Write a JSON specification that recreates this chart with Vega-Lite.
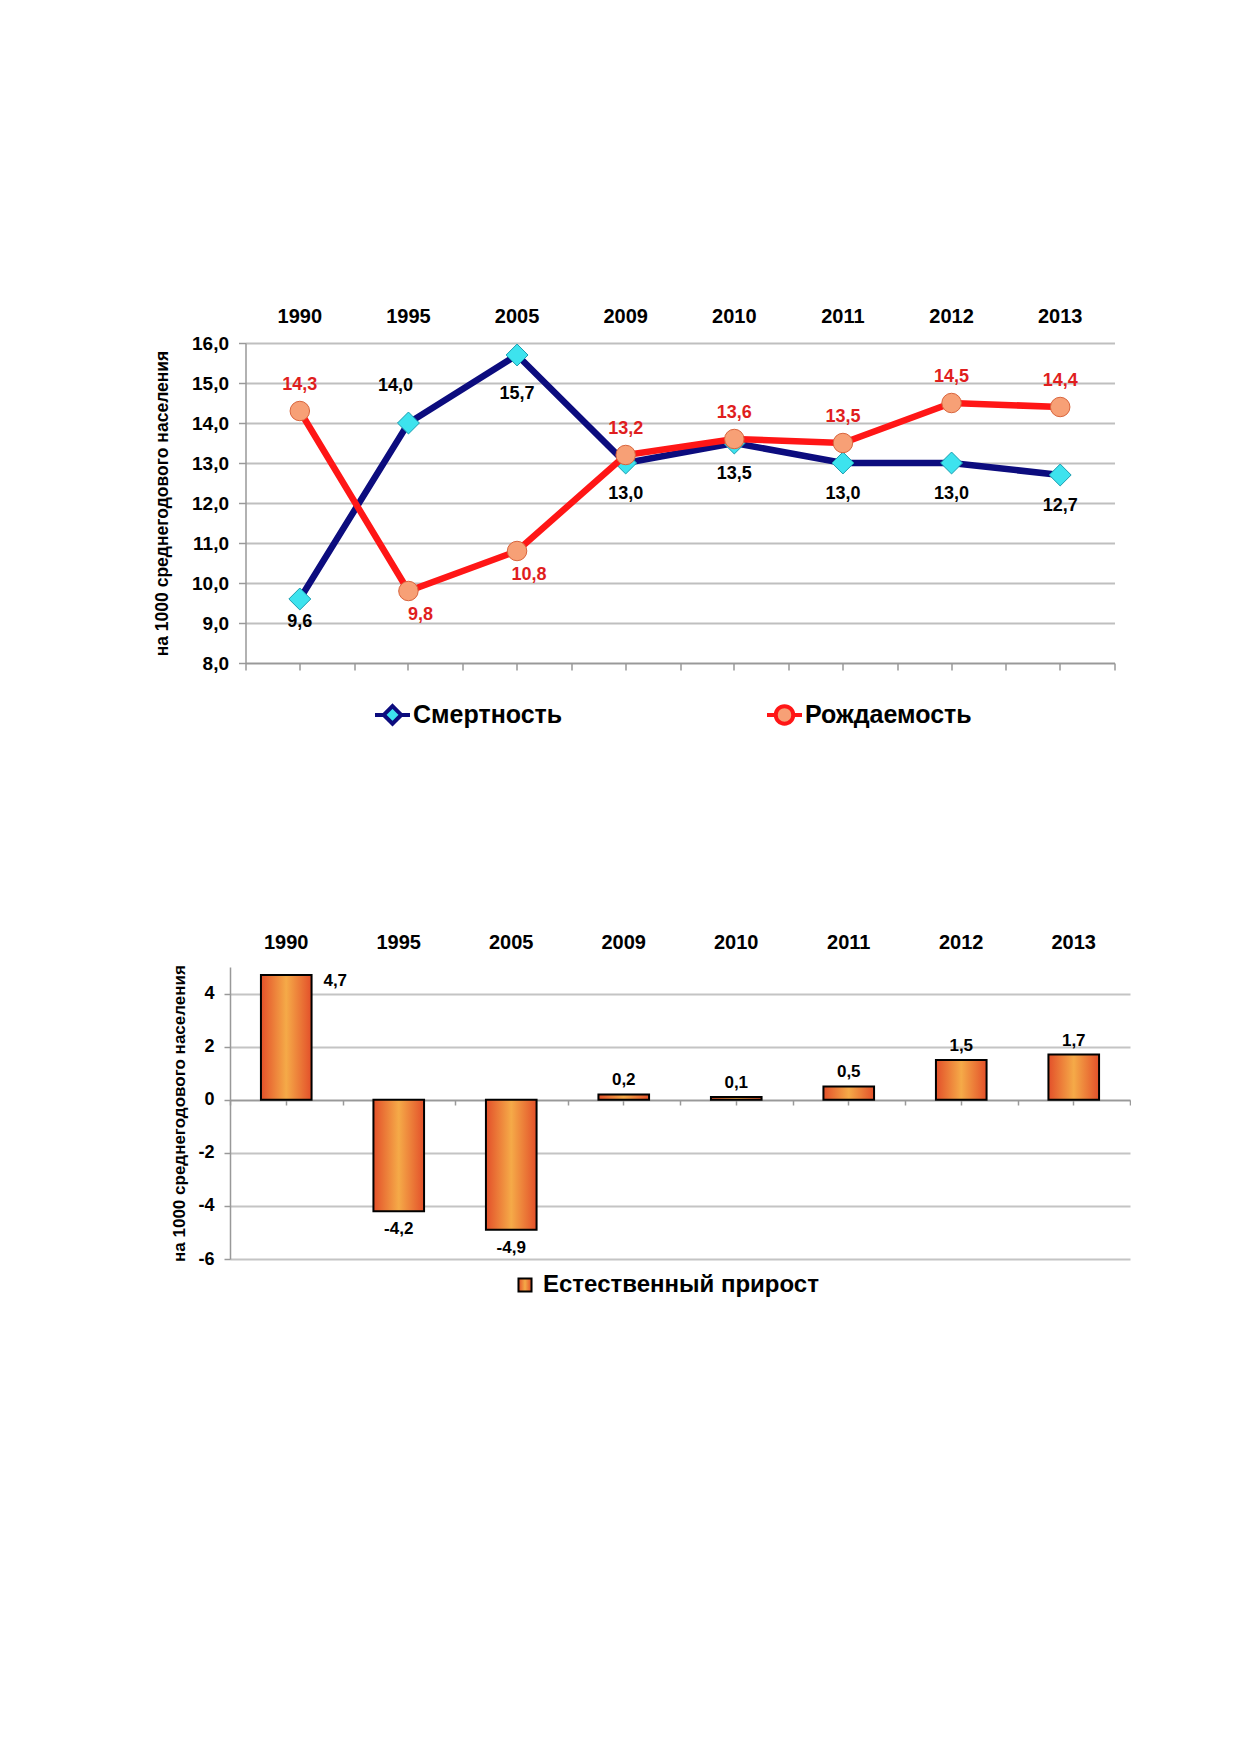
{
  "$schema": "https://vega.github.io/schema/vega-lite/v6.json",
  "background": "white",
  "padding": {"left": 153, "top": 306, "right": 0, "bottom": 0},
  "config": {
    "locale": {"number": {"decimal": ",", "thousands": " ", "grouping": [3], "currency": ["", ""], "minus": "-"}},
    "font": "Liberation Sans",
    "view": {"stroke": null},
    "axis": {"labelFont": "Liberation Sans", "titleFont": "Liberation Sans", "labelColor": "#000000", "titleColor": "#000000"},
    "legend": {"labelFont": "Liberation Sans"}
  },
  "datasets": {
    "rates": [
      {"year": "1990", "series": "Смертность", "value": 9.6},
      {"year": "1995", "series": "Смертность", "value": 14.0},
      {"year": "2005", "series": "Смертность", "value": 15.7},
      {"year": "2009", "series": "Смертность", "value": 13.0},
      {"year": "2010", "series": "Смертность", "value": 13.5},
      {"year": "2011", "series": "Смертность", "value": 13.0},
      {"year": "2012", "series": "Смертность", "value": 13.0},
      {"year": "2013", "series": "Смертность", "value": 12.7},
      {"year": "1990", "series": "Рождаемость", "value": 14.3},
      {"year": "1995", "series": "Рождаемость", "value": 9.8},
      {"year": "2005", "series": "Рождаемость", "value": 10.8},
      {"year": "2009", "series": "Рождаемость", "value": 13.2},
      {"year": "2010", "series": "Рождаемость", "value": 13.6},
      {"year": "2011", "series": "Рождаемость", "value": 13.5},
      {"year": "2012", "series": "Рождаемость", "value": 14.5},
      {"year": "2013", "series": "Рождаемость", "value": 14.4}
    ],
    "growth": [
      {"year": "1990", "value": 4.7},
      {"year": "1995", "value": -4.2},
      {"year": "2005", "value": -4.9},
      {"year": "2009", "value": 0.2},
      {"year": "2010", "value": 0.1},
      {"year": "2011", "value": 0.5},
      {"year": "2012", "value": 1.5},
      {"year": "2013", "value": 1.7}
    ]
  },
  "bounds": "flush",
  "center": true,
  "spacing": 304,
  "vconcat": [
    {
      "width": 869,
      "height": 320,
      "data": {"name": "rates"},
      "resolve": {"axis": {"x": "independent"}},
      "encoding": {
        "y": {"field": "value", "type": "quantitative",
          "scale": {"domain": [8, 16], "nice": false, "zero": false},
          "axis": {"title": "на 1000 среднегодового населения", "titleFontSize": 17.5, "titleFontWeight": "bold", "titlePadding": 20,
            "values": [8, 9, 10, 11, 12, 13, 14, 15, 16], "format": ".1f", "labelOverlap": false,
            "labelFontSize": 19, "labelFontWeight": "bold", "labelPadding": 10,
            "grid": true, "gridColor": "#bfbfbf", "gridWidth": 2,
            "domainColor": "#999999", "domainWidth": 1.5, "tickColor": "#999999", "tickSize": 7, "tickWidth": 1.5}}
      },
      "layer": [
        {
          "transform": [{"filter": "datum.series == 'Смертность'"}],
          "mark": {"type": "line", "strokeWidth": 6.5},
          "encoding": {
            "x": {"field": "year", "type": "nominal", "sort": null,
              "scale": {"type": "band", "paddingInner": 0, "paddingOuter": 0},
              "axis": {"orient": "top", "title": null, "domain": false, "ticks": false, "tickSize": 0, "grid": false,
                "labelAngle": 0, "labelFontSize": 20, "labelFontWeight": "bold", "labelPadding": 17}},
            "color": {"field": "series", "type": "nominal",
              "scale": {"domain": ["Смертность", "Рождаемость"], "range": ["#0c0c7e", "#ff1616"]},
              "legend": {"orient": "none", "legendX": 143, "legendY": 352, "direction": "horizontal", "title": null,
                "labelFontSize": 25, "labelFontWeight": "bold", "labelColor": "#000000", "labelLimit": 400,
                "symbolType": "M-1,0H1", "symbolSize": 1225, "symbolStrokeWidth": 4, "labelOffset": 1, "columnPadding": 196,
                "encode": {"symbols": {"update": {
                  "shape": {"signal": "datum.value == 'Смертность' ? 'M-1,0H-0.5M0.5,0H1M0,-0.5L0.5,0L0,0.5L-0.5,0Z' : 'M-1,0H-0.5M0.5,0H1M0.5,0A0.5,0.5 0 1,1 -0.5,0A0.5,0.5 0 1,1 0.5,0Z'"},
                  "fill": {"signal": "datum.value == 'Смертность' ? '#3de3ee' : '#f7a076'"},
                  "strokeWidth": {"value": 4}
                }}}}
            }
          }
        },
        {
          "transform": [{"filter": "datum.series == 'Смертность'"}],
          "mark": {"type": "point", "shape": "diamond", "filled": true, "fill": "#3de3ee", "stroke": "#1b9db0", "strokeWidth": 1, "size": 480, "opacity": 1},
          "encoding": {
            "x": {"field": "year", "type": "nominal", "sort": null,
              "scale": {"type": "band", "paddingInner": 0, "paddingOuter": 0},
              "axis": {"orient": "bottom", "title": null, "labels": false, "grid": false,
                "domain": true, "domainColor": "#999999", "domainWidth": 1.5, "ticks": true, "tickColor": "#999999", "tickSize": 7, "tickWidth": 1.5}}
          }
        },
        {
          "transform": [{"filter": "datum.series == 'Рождаемость'"}],
          "mark": {"type": "line", "strokeWidth": 6.5},
          "encoding": {
            "x": {"field": "year", "type": "nominal", "sort": null,
              "scale": {"type": "band", "paddingInner": 0, "paddingOuter": 0},
              "axis": {"orient": "bottom", "title": null, "labels": false, "grid": false, "domain": false,
                "ticks": true, "tickBand": "extent", "tickColor": "#999999", "tickSize": 7, "tickWidth": 1.5}},
            "color": {"field": "series", "type": "nominal",
              "scale": {"domain": ["Смертность", "Рождаемость"], "range": ["#0c0c7e", "#ff1616"]},
              "legend": {"orient": "none", "legendX": 143, "legendY": 352, "direction": "horizontal", "title": null,
                "labelFontSize": 25, "labelFontWeight": "bold", "labelColor": "#000000", "labelLimit": 400,
                "symbolType": "M-1,0H1", "symbolSize": 1225, "symbolStrokeWidth": 4, "labelOffset": 1, "columnPadding": 196,
                "encode": {"symbols": {"update": {
                  "shape": {"signal": "datum.value == 'Смертность' ? 'M-1,0H-0.5M0.5,0H1M0,-0.5L0.5,0L0,0.5L-0.5,0Z' : 'M-1,0H-0.5M0.5,0H1M0.5,0A0.5,0.5 0 1,1 -0.5,0A0.5,0.5 0 1,1 0.5,0Z'"},
                  "fill": {"signal": "datum.value == 'Смертность' ? '#3de3ee' : '#f7a076'"},
                  "strokeWidth": {"value": 4}
                }}}}
            }
          }
        },
        {
          "transform": [{"filter": "datum.series == 'Рождаемость'"}],
          "mark": {"type": "point", "shape": "circle", "filled": true, "fill": "#f7a076", "stroke": "#d9643c", "strokeWidth": 1, "size": 380, "opacity": 1},
          "encoding": {
            "x": {"field": "year", "type": "nominal", "sort": null, "axis": null}
          }
        },
        {
          "transform": [{"filter": "datum.series == 'Смертность' && datum.year != '1995' && datum.year != '1990' && datum.year != '2005'"}],
          "mark": {"type": "text", "baseline": "middle", "dy": 31, "fontSize": 18, "fontWeight": "bold", "color": "#000000"},
          "encoding": {
            "x": {"field": "year", "type": "nominal", "sort": null, "axis": null},
            "text": {"field": "value", "type": "quantitative", "format": ".1f"}
          }
        },
        {
          "transform": [{"filter": "datum.series == 'Смертность' && datum.year == '1990'"}],
          "mark": {"type": "text", "baseline": "middle", "dy": 23, "fontSize": 18, "fontWeight": "bold", "color": "#000000"},
          "encoding": {
            "x": {"field": "year", "type": "nominal", "sort": null, "axis": null},
            "text": {"field": "value", "type": "quantitative", "format": ".1f"}
          }
        },
        {
          "transform": [{"filter": "datum.series == 'Смертность' && datum.year == '2005'"}],
          "mark": {"type": "text", "baseline": "middle", "dy": 39, "fontSize": 18, "fontWeight": "bold", "color": "#000000"},
          "encoding": {
            "x": {"field": "year", "type": "nominal", "sort": null, "axis": null},
            "text": {"field": "value", "type": "quantitative", "format": ".1f"}
          }
        },
        {
          "transform": [{"filter": "datum.series == 'Смертность' && datum.year == '1995'"}],
          "mark": {"type": "text", "baseline": "middle", "dy": -37, "dx": -13, "fontSize": 18, "fontWeight": "bold", "color": "#000000"},
          "encoding": {
            "x": {"field": "year", "type": "nominal", "sort": null, "axis": null},
            "text": {"field": "value", "type": "quantitative", "format": ".1f"}
          }
        },
        {
          "transform": [{"filter": "datum.series == 'Рождаемость' && datum.year != '1995' && datum.year != '2005'"}],
          "mark": {"type": "text", "baseline": "middle", "dy": -26, "fontSize": 18, "fontWeight": "bold", "color": "#e01e1e"},
          "encoding": {
            "x": {"field": "year", "type": "nominal", "sort": null, "axis": null},
            "text": {"field": "value", "type": "quantitative", "format": ".1f"}
          }
        },
        {
          "transform": [{"filter": "datum.series == 'Рождаемость' && (datum.year == '1995' || datum.year == '2005')"}],
          "mark": {"type": "text", "baseline": "middle", "dy": 24, "dx": 12, "fontSize": 18, "fontWeight": "bold", "color": "#e01e1e"},
          "encoding": {
            "x": {"field": "year", "type": "nominal", "sort": null, "axis": null},
            "text": {"field": "value", "type": "quantitative", "format": ".1f"}
          }
        }
      ]
    },
    {
      "width": 900,
      "height": 292,
      "data": {"name": "growth"},
      "resolve": {"axis": {"x": "independent"}},
      "encoding": {
        "y": {"field": "value", "type": "quantitative",
          "scale": {"domain": [-6, 5], "nice": false, "zero": false},
          "axis": {"title": "на 1000 среднегодового населения", "titleFontSize": 17, "titleFontWeight": "bold", "titlePadding": 9,
            "values": [-6, -4, -2, 0, 2, 4], "format": "d", "labelOverlap": false,
            "labelFontSize": 18, "labelFontWeight": "bold", "labelPadding": 10,
            "grid": true, "gridColor": "#c4c4c4", "gridWidth": 2,
            "domainColor": "#999999", "domainWidth": 1.5, "tickColor": "#999999", "tickSize": 6, "tickWidth": 1.5}}
      },
      "layer": [
        {
          "mark": {"type": "bar", "width": {"band": 0.45}, "strokeWidth": 2,
            "fill": {"gradient": "linear", "x1": 0, "x2": 1, "y1": 0, "y2": 0,
              "stops": [{"offset": 0, "color": "#e3502a"}, {"offset": 0.5, "color": "#f5aa48"}, {"offset": 1, "color": "#e3502a"}]}},
          "encoding": {
            "x": {"field": "year", "type": "nominal", "sort": null,
              "scale": {"type": "band", "paddingInner": 0, "paddingOuter": 0},
              "axis": {"orient": "top", "title": null, "domain": false, "ticks": false, "tickSize": 0, "grid": false,
                "labelAngle": 0, "labelFontSize": 20, "labelFontWeight": "bold", "labelPadding": 15}},
            "stroke": {"datum": "Естественный прирост", "type": "nominal",
              "scale": {"range": ["#000000"]},
              "legend": {"orient": "none", "legendX": 283, "legendY": 930, "title": null,
                "symbolType": "square", "symbolSize": 170, "symbolStrokeWidth": 2,
                "labelFontSize": 24, "labelFontWeight": "bold", "labelColor": "#000000", "labelOffset": 6, "labelLimit": 500,
                "encode": {"symbols": {"update": {
                  "fill": {"value": {"gradient": "linear", "x1": 0, "x2": 1, "y1": 0, "y2": 0,
                    "stops": [{"offset": 0, "color": "#e3502a"}, {"offset": 0.5, "color": "#f5aa48"}, {"offset": 1, "color": "#e3502a"}]}},
                  "opacity": {"value": 1}
                }}}}
            }
          }
        },
        {
          "transform": [{"filter": "datum.value > 0 && datum.year != '1990'"}],
          "mark": {"type": "text", "baseline": "middle", "dy": -14, "fontSize": 17, "fontWeight": "bold", "color": "#000000"},
          "encoding": {
            "x": {"field": "year", "type": "nominal", "sort": null,
              "axis": {"orient": "bottom", "offset": -159, "title": null, "labels": false, "grid": false,
                "domain": true, "domainColor": "#999999", "domainWidth": 1.5, "ticks": true, "tickColor": "#999999", "tickSize": 5, "tickWidth": 1.5}},
            "text": {"field": "value", "type": "quantitative", "format": ".1f"}
          }
        },
        {
          "transform": [{"filter": "datum.value < 0"}],
          "mark": {"type": "text", "baseline": "middle", "dy": 18, "fontSize": 17, "fontWeight": "bold", "color": "#000000"},
          "encoding": {
            "x": {"field": "year", "type": "nominal", "sort": null,
              "axis": {"orient": "bottom", "offset": -159, "title": null, "labels": false, "grid": false, "domain": false,
                "ticks": true, "tickBand": "extent", "tickColor": "#999999", "tickSize": 5, "tickWidth": 1.5}},
            "text": {"field": "value", "type": "quantitative", "format": ".1f"}
          }
        },
        {
          "transform": [{"filter": "datum.year == '1990'"}],
          "mark": {"type": "text", "baseline": "middle", "dy": 6, "dx": 49, "fontSize": 17, "fontWeight": "bold", "color": "#000000"},
          "encoding": {
            "x": {"field": "year", "type": "nominal", "sort": null, "axis": null},
            "text": {"field": "value", "type": "quantitative", "format": ".1f"}
          }
        }
      ]
    }
  ]
}
